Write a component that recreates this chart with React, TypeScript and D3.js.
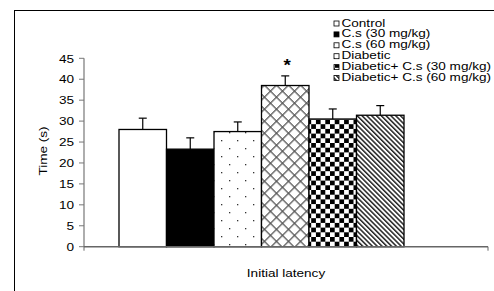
import React from "react";
import * as d3 from "d3";

const categories = ["Initial latency"];
const seriesNames = [
  "Control",
  "C.s (30 mg/kg)",
  "C.s (60 mg/kg)",
  "Diabetic",
  "Diabetic+ C.s (30 mg/kg)",
  "Diabetic+ C.s (60 mg/kg)",
];
const values = [28.0, 23.3, 27.5, 38.5, 30.5, 31.4];
const errors = [2.7, 2.7, 2.3, 2.3, 2.4, 2.3];
const yTicks = [0, 5, 10, 15, 20, 25, 30, 35, 40, 45];
const significance = ["", "", "", "*", "", ""];
const fills = ["#fff", "#000", "url(#pDots)", "url(#pCross)", "url(#pCheck)", "url(#pDiag)"];

const W = 494;
const H = 291;
const FONT = "'Liberation Sans', Arial, sans-serif";
const SX = 1.18;
const FS = 11.5;

export default function App() {
  const y = d3.scaleLinear().domain([0, 45]).range([246.7, 58.3]);
  const x0 = d3.scaleBand().domain(categories).range([84, 488]);
  const x1 = d3.scaleBand().domain(seriesNames).range([35, 320]);
  const cx = x0(categories[0]) as number;

  const T = (
    x: number,
    yy: number,
    s: string,
    anchor: string,
    size = FS,
    rot = 0,
    key?: any,
    weight: any = "normal"
  ) => (
    <text
      key={key}
      transform={`translate(${x},${yy}) rotate(${rot}) scale(${SX},1)`}
      textAnchor={anchor as any}
      fontFamily={FONT}
      fontSize={size}
      fontWeight={weight}
      fill="#000"
    >
      {s}
    </text>
  );

  const legendX = 334;
  const legendY0 = 21;
  const legendStep = 10.9;

  return (
    <svg
      width={W}
      height={H}
      style={{ position: "absolute", left: 0, top: 0, background: "#fff" }}
    >
      <defs>
        <pattern id="pDots" patternUnits="userSpaceOnUse" width={16} height={16} x={3} y={2}>
          <rect width={16} height={16} fill="#fff" />
          <rect x={2} y={2} width={1.3} height={1.3} fill="#333" />
          <rect x={10} y={10} width={1.3} height={1.3} fill="#333" />
        </pattern>
        <pattern
          id="pCross"
          patternUnits="userSpaceOnUse"
          width={8.5}
          height={8.5}
          patternTransform="rotate(45)"
        >
          <rect width={8.5} height={8.5} fill="#fff" />
          <rect x={0} y={0} width={8.5} height={1.3} fill="#555" />
          <rect x={0} y={0} width={1.3} height={8.5} fill="#555" />
        </pattern>
        <pattern id="pCheck" patternUnits="userSpaceOnUse" width={9.4} height={9.4} x={1} y={2}>
          <rect width={9.4} height={9.4} fill="#fff" />
          <rect x={0} y={0} width={4.7} height={4.7} fill="#000" />
          <rect x={4.7} y={4.7} width={4.7} height={4.7} fill="#000" />
        </pattern>
        <pattern
          id="pDiag"
          patternUnits="userSpaceOnUse"
          width={3.4}
          height={3.4}
          patternTransform="rotate(-45)"
        >
          <rect width={3.4} height={3.4} fill="#fff" />
          <rect x={0} y={0} width={1.5} height={3.4} fill="#222" />
        </pattern>
      </defs>

      {/* outer frame */}
      <rect x={14.5} y={10.5} width={520} height={320} fill="none" stroke="#000" strokeWidth={1} />

      {/* bars */}
      {seriesNames.map((s, i) => {
        const bx = cx + (x1(s) as number);
        const bw = x1.bandwidth();
        const top = y(values[i]);
        return (
          <g key={s}>
            <rect
              x={bx}
              y={top}
              width={bw}
              height={y(0) - top}
              fill={fills[i]}
              stroke="#000"
              strokeWidth={1.3}
            />
            <line
              x1={bx + bw / 2}
              x2={bx + bw / 2}
              y1={top}
              y2={y(values[i] + errors[i])}
              stroke="#000"
              strokeWidth={1.2}
            />
            <line
              x1={bx + bw / 2 - 4}
              x2={bx + bw / 2 + 4}
              y1={y(values[i] + errors[i])}
              y2={y(values[i] + errors[i])}
              stroke="#000"
              strokeWidth={1.2}
            />
            {significance[i] &&
              T(bx + bw / 2 + 2, y(values[i] + errors[i]) - 5, significance[i], "middle", 16, 0, undefined, "bold")}
          </g>
        );
      })}

      {/* y axis */}
      <line x1={84} x2={84} y1={y(45)} y2={y(0)} stroke="#777" strokeWidth={1.2} />
      {yTicks.map((t) => (
        <g key={t}>
          <line x1={79} x2={84} y1={y(t)} y2={y(t)} stroke="#777" strokeWidth={1} />
          {T(74, y(t) + 4.2, String(t), "end", FS, 0, "l" + t)}
        </g>
      ))}
      {/* x axis */}
      <line x1={84} x2={488} y1={y(0)} y2={y(0)} stroke="#666" strokeWidth={1.4} />
      <line x1={488} x2={488} y1={y(0)} y2={y(0) + 4} stroke="#666" strokeWidth={1} />
      <line x1={84} x2={84} y1={y(0)} y2={y(0) + 4} stroke="#666" strokeWidth={1} />

      {/* axis titles */}
      {T(cx + x0.bandwidth() / 2, 276.5, categories[0], "middle", FS)}
      {T(46.5, 151, "Time (s)", "middle", FS, -90)}

      {/* legend */}
      {seriesNames.map((s, i) => {
        const yy = legendY0 + i * legendStep;
        return (
          <g key={"lg" + s}>
            <rect x={legendX} y={yy} width={5} height={5} fill={fills[i]} stroke="#000" strokeWidth={0.8} />
            {T(legendX + 7.5, yy + 5.5, s, "start", FS)}
          </g>
        );
      })}
    </svg>
  );
}
